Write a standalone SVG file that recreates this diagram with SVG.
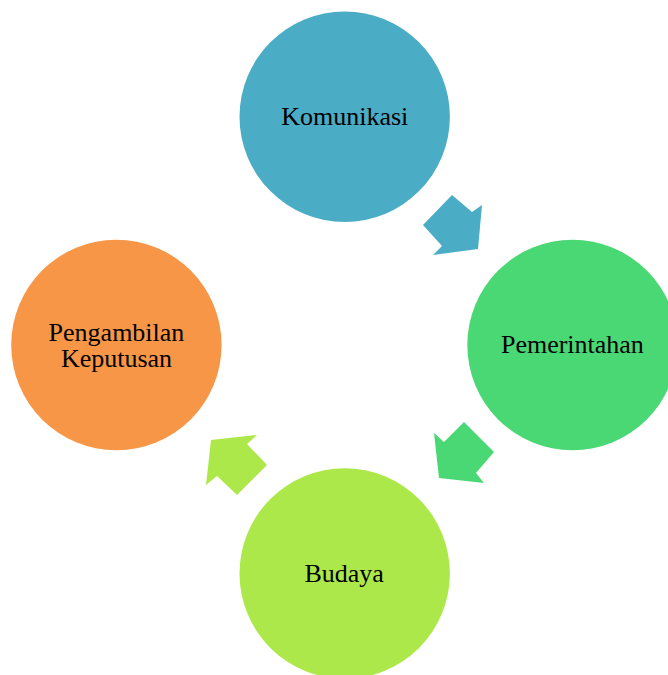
<svg xmlns="http://www.w3.org/2000/svg" width="668" height="675" viewBox="0 0 668 675">
<style>
.lbl{font-family:"Liberation Serif","Times New Roman",serif;font-size:26px;fill:#000;text-anchor:middle}
</style>
<rect width="668" height="675" fill="#fff"/>
<g id="connectors">
<polygon points="423,225 452,195 472,212 482,205 478,249 433,255 442,246" fill="#4BACC6"/>
<polygon points="434,433 444,442 464,422 494,452 476,473 484,483 439,478" fill="#4AD874"/>
<polygon points="257,435 247,444 267,465 237,495 217,476 206,485 211,440" fill="#ADE84A"/>
</g>
<g id="komunikasi">
<circle cx="344.7" cy="116.7" r="105.2" fill="#4BACC6"/>
<text class="lbl" x="344.8" y="124.8">Komunikasi</text>
</g>
<g id="pemerintahan">
<circle cx="572.5" cy="345" r="105.2" fill="#4AD874"/>
<text class="lbl" x="572.4" y="352.8">Pemerintahan</text>
</g>
<g id="budaya">
<circle cx="344.7" cy="573.5" r="105.2" fill="#ADE84A"/>
<text class="lbl" x="344.2" y="581.7">Budaya</text>
</g>
<g id="pengambilan">
<circle cx="116.4" cy="345" r="105.2" fill="#F79646"/>
<text class="lbl" x="116.5" y="341">Pengambilan</text>
<text class="lbl" x="116.5" y="366.7">Keputusan</text>
</g>
</svg>
